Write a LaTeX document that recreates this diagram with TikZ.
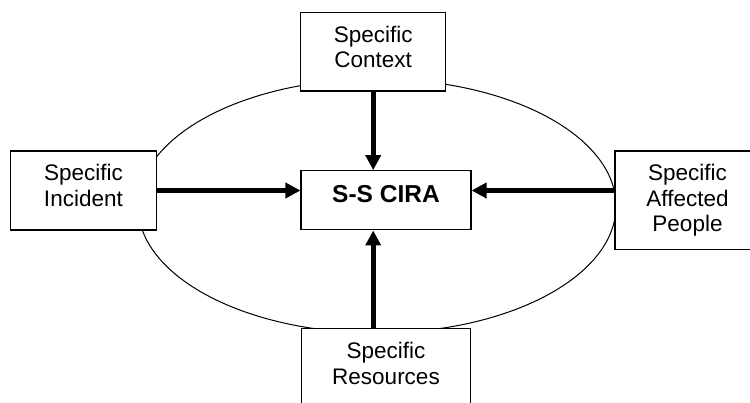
\documentclass[tikz,border=0pt]{standalone}
\usepackage{fontspec}
\setmainfont{Liberation Sans}
\usetikzlibrary{arrows.meta}
\begin{document}
\begin{tikzpicture}[x=1pt, y=-1pt,
        box/.style={draw, fill=white, line width=1.1pt, align=center, inner sep=0pt,
            font=\fontsize{22.5}{25.7}\selectfont},
        flow/.style={line width=5pt, -{Triangle[length=15pt, width=15pt]}}]
    \clip (0,0) rectangle (750,403);

    % 楕円
    \draw[line width=1pt] (377,206) ellipse [x radius=239, y radius=127];

    % 箱
    \node[box, minimum width=145pt, minimum height=78.3pt, text depth=10pt] (ctx) at (373.2,51.9) {Specific\\Context};
    \node[box, minimum width=145.6pt, minimum height=79pt, text depth=10pt] (inc) at (83.4,190.5) {Specific\\Incident};
    \node[box, minimum width=145pt, minimum height=98.3pt] (aff) at (687.5,200.2) {Specific\\Affected\\People};
    \node[box, minimum width=169.4pt, minimum height=98pt, text depth=28pt] (res) at (386,377.3) {Specific\\Resources};
    \node[box, minimum width=170pt, minimum height=59.3pt, text depth=13pt,
        font=\fontsize{24.5}{28}\selectfont\bfseries] (cira) at (386,200.3) {S-S CIRA};

    % 矢印
    \draw[flow] (ctx.south) -- (ctx.south |- cira.north);
    \draw[flow] (inc.east) -- (inc.east -| cira.west);
    \draw[flow] (inc.east -| aff.west) -- (inc.east -| cira.east);
    \draw[flow] (ctx.south |- res.north) -- (ctx.south |- cira.south);
\end{tikzpicture}
\end{document}
